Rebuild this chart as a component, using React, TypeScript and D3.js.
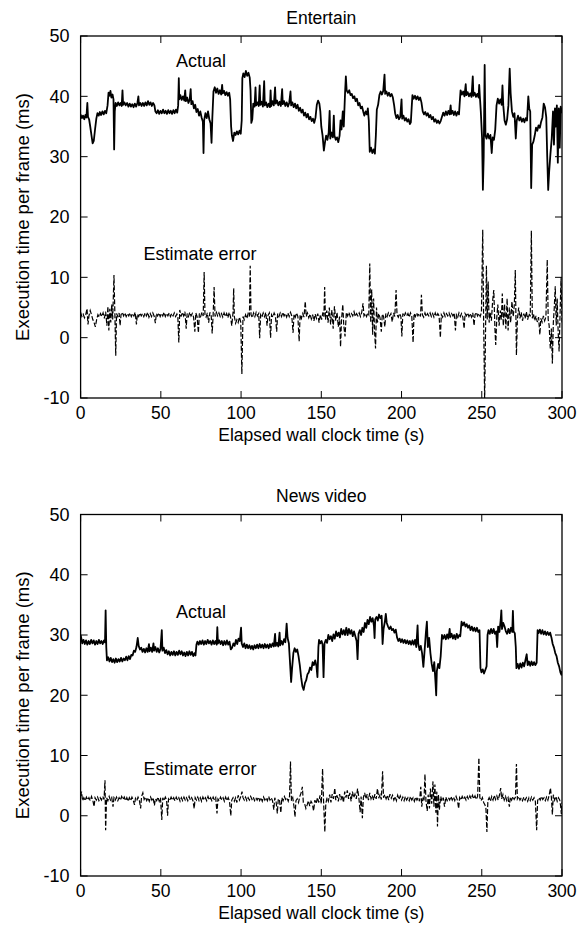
import React from "react";
import * as d3 from "d3";

const xTicks = [0, 50, 100, 150, 200, 250, 300];
const yTicks = [-10, 0, 10, 20, 30, 40, 50];
const panelTitles = ["Entertain", "News video"];
const xLabel = "Elapsed wall clock time (s)";
const yLabel = "Execution time per frame (ms)";
const actualLabel = "Actual";
const errorLabel = "Estimate error";

const entertainActual: [number, number][] = [
  [0,37.0],[0.8,36.4],[1.5,36.8],[2.3,36.2],[3,36.9],[3.6,36.5],[4.2,38.9],[4.6,36.6],[5.3,36.2],[6,35.0],[6.8,33.5],[7.5,32.2],[8.2,32.6],[9,34.5],[9.8,36.3],[10.5,37.2],[11.3,36.8],[12,37.4],[12.8,36.9],[13.6,37.5],[14.4,37.0],[15.2,37.6],[16,37.2],[16.8,38.5],[17.4,40.6],[18,40.1],[18.6,40.9],[19.2,39.8],[19.9,40.3],[20.5,39.5],[20.9,31.2],[21.3,37.5],[21.8,38.9],[22.6,38.4],[23.4,39.0],[24.2,38.5],[25,38.9],[25.6,38.4],[26.1,41.0],[26.5,38.6],[27.3,39.0],[28.1,38.5],[29,38.9],[29.8,38.3],[30.6,38.8],[31.4,38.3],[32.2,38.7],[33,38.2],[33.8,38.8],[34.6,38.3],[35.4,38.9],[36,40.0],[36.4,38.5],[37.2,38.9],[38,38.4],[38.8,38.9],[39.6,38.4],[40.4,39.0],[41.2,38.5],[42,39.2],[42.8,38.6],[43.6,39.0],[44.4,38.4],[45.2,38.9],[46,38.5],[46.6,37.5],[47.4,37.2],[48.2,37.7],[49,37.1],[49.8,37.6],[50.6,37.2],[51.4,37.8],[52.2,37.2],[53,37.6],[53.8,37.1],[54.6,37.7],[55.4,37.2],[56.2,37.6],[57,37.1],[57.8,37.7],[58.6,37.2],[59.4,37.8],[60.2,37.3],[60.8,38.5],[61.2,43.0],[61.5,39.5],[62.2,40.2],[63,39.4],[63.8,40.0],[64.6,39.3],[65.2,41.0],[65.6,39.2],[66.4,39.8],[67.2,38.9],[68,39.5],[68.6,41.2],[69,38.7],[69.8,39.2],[70.6,38.0],[71.4,38.6],[72.2,37.4],[73,37.9],[73.8,36.8],[74.6,37.5],[75.4,36.5],[76.2,35.8],[76.6,30.6],[77,36.0],[77.8,37.2],[78.6,36.4],[79.4,37.5],[80.2,36.2],[81,35.5],[81.6,32.3],[82.1,36.5],[82.8,40.8],[83.6,41.5],[84.4,40.6],[85.2,41.3],[86,40.4],[86.8,41.0],[87.6,40.3],[88.2,41.9],[88.6,40.5],[89.4,40.9],[90.2,40.2],[91,40.7],[91.8,40.1],[92.6,40.6],[93.2,39.5],[93.8,35.0],[94.3,33.5],[95,32.6],[95.8,34.0],[96.6,33.6],[97.4,34.2],[98.2,33.7],[99,34.3],[99.8,33.8],[100.4,36.0],[100.8,43.0],[101.4,43.8],[102.2,43.2],[103,44.2],[103.8,43.4],[104.6,43.9],[105.4,43.1],[105.9,41.0],[106.4,35.6],[107,36.2],[107.6,38.8],[108.4,38.3],[109,41.5],[109.4,38.5],[110.2,39.0],[111,38.4],[111.6,41.8],[112,38.6],[112.8,39.1],[113.6,38.3],[114.4,42.5],[114.8,38.5],[115.6,39.0],[116.4,38.2],[117.2,38.8],[118,38.2],[118.4,41.0],[118.8,38.4],[119.6,39.2],[120.4,38.5],[121.2,41.5],[121.6,38.8],[122.4,39.3],[123.2,38.5],[124,39.1],[124.8,38.4],[125.6,41.2],[126,38.7],[126.8,39.2],[127.6,38.4],[128.4,39.0],[129.2,38.3],[130,38.9],[130.8,40.8],[131.2,38.5],[132,39.0],[132.8,38.2],[133.6,38.8],[134.4,38.0],[135.2,38.6],[136,37.6],[136.8,38.1],[137.6,37.3],[138.4,37.8],[139.2,36.8],[140,37.3],[140.8,36.5],[141.6,37.1],[142.4,36.2],[143.2,36.6],[144,35.9],[144.8,36.3],[145.6,35.6],[146.4,36.5],[147.2,38.6],[148,39.3],[148.8,38.8],[149.4,37.5],[150,35.0],[150.8,33.5],[151.6,31.0],[152.2,32.2],[153,33.5],[153.8,32.8],[154.6,34.0],[155.2,37.6],[155.6,33.0],[156.4,34.0],[157.2,33.2],[157.8,36.8],[158.2,33.5],[159,32.8],[159.8,33.2],[160.6,32.4],[161.4,33.5],[162,36.0],[162.6,34.5],[163.4,37.5],[164,35.0],[164.8,40.5],[165.3,43.3],[165.8,41.0],[166.6,40.6],[167.4,41.0],[168.2,40.2],[169,40.4],[169.8,39.7],[170.6,40.0],[171.4,39.2],[172.2,39.6],[173,38.5],[173.8,38.9],[174.6,38.0],[175.4,38.3],[176.2,37.4],[176.8,36.8],[177.6,37.5],[178.4,37.0],[179,38.0],[179.6,36.0],[180.2,30.8],[181,31.5],[181.8,30.6],[182.6,31.2],[183.4,30.5],[184,33.5],[184.6,37.8],[185.4,38.6],[186.2,40.2],[187,40.8],[187.8,40.3],[188.6,40.9],[189.4,43.6],[189.8,40.4],[190.6,40.8],[191.4,40.1],[192.2,40.6],[193,40.0],[193.8,40.4],[194.6,39.8],[195.4,38.5],[196,37.2],[196.8,36.4],[197.6,36.9],[198.4,36.2],[199.2,36.6],[200,39.5],[200.4,36.3],[201.2,36.8],[202,36.0],[202.8,36.4],[203.6,35.8],[204.4,36.2],[205.2,35.4],[205.8,35.7],[206.4,38.5],[206.8,40.2],[207.6,39.6],[208.4,40.1],[209.2,39.5],[210,40.0],[210.8,39.4],[211.6,39.8],[212.4,39.0],[213.2,37.5],[214,37.0],[214.8,37.4],[215.6,36.8],[216.4,37.2],[217.2,36.5],[218,36.9],[218.8,36.2],[219.6,36.6],[220.4,35.8],[221.2,36.2],[222,35.6],[222.8,36.0],[223.6,35.5],[224.4,35.9],[225.2,36.6],[226,37.3],[226.8,36.8],[227.6,37.5],[228.4,36.9],[229.2,37.6],[230,37.0],[230.6,38.5],[231,37.1],[231.8,37.6],[232.6,36.9],[233.4,37.5],[234.2,36.8],[235,37.4],[235.8,37.0],[236.4,39.5],[236.8,41.0],[237.6,40.3],[238.4,40.8],[239.2,40.0],[240,42.0],[240.4,40.2],[241.2,40.7],[242,40.0],[242.8,40.5],[243.6,39.9],[244.4,43.3],[244.8,40.1],[245.6,40.6],[246.4,39.9],[247.2,40.4],[248,39.8],[248.4,41.9],[248.8,40.0],[249.4,37.5],[250.2,33.0],[250.7,24.5],[251.2,30.0],[251.8,45.2],[252.3,33.5],[253,33.0],[253.8,33.8],[254.6,33.0],[255.4,33.6],[256.2,30.6],[256.8,33.2],[257.6,32.8],[258.4,34.5],[259.2,38.5],[260,39.6],[260.8,38.8],[261.6,39.5],[262.4,38.6],[262.9,41.8],[263.4,38.5],[264.2,36.0],[265,35.3],[265.8,36.2],[266.6,38.5],[267.4,44.6],[268,40.5],[268.8,37.5],[269.6,36.6],[270.4,37.2],[271.2,33.0],[271.8,36.0],[272.6,36.8],[273.4,36.0],[274.2,36.5],[275,35.8],[275.8,36.3],[276.6,35.7],[277.4,36.4],[278.2,36.0],[279,40.0],[279.6,38.0],[280.2,37.5],[280.8,24.8],[281.4,32.0],[282.2,32.5],[283,33.5],[283.8,34.8],[284.6,34.3],[285.4,35.2],[286.2,34.8],[287,35.8],[287.8,36.5],[288.6,38.8],[289.4,38.2],[290.2,36.5],[290.8,30.0],[291.4,24.5],[292,27.5],[292.8,30.5],[293.6,33.0],[294.4,37.5],[295,32.0],[295.6,38.0],[296.2,35.0],[296.8,38.5],[297.4,29.0],[298,38.0],[298.6,31.5],[299.2,38.3],[300,37.2]
];

const entertainError: [number, number][] = [
  [0,4.2],[0.8,3.5],[1.6,3.9],[2.4,3.3],[3.2,3.8],[4,4.8],[4.6,2.2],[5.2,3.6],[6,4.5],[6.8,3.8],[7.6,3.0],[8.4,2.5],[9.2,1.8],[10,3.0],[10.8,3.8],[11.6,3.4],[12.4,4.0],[13.2,3.5],[14,4.1],[14.8,3.2],[15.6,4.3],[16.4,2.0],[17,5.2],[17.6,1.2],[18.2,4.8],[18.8,2.5],[19.4,5.5],[20,3.0],[20.8,10.4],[21.4,3.5],[21.9,-3.0],[22.4,4.0],[23.2,3.5],[24,4.1],[24.6,2.0],[25.2,3.8],[26,4.2],[26.8,3.6],[27.6,4.1],[28.4,3.5],[29.2,4.0],[30,3.6],[30.8,4.1],[31.6,3.5],[32.4,4.0],[33.2,3.6],[34,4.2],[34.8,2.2],[35.4,3.9],[36.2,3.5],[37,4.1],[37.8,3.6],[38.6,4.0],[39.4,3.5],[40.2,4.1],[41,3.6],[41.8,4.2],[42.6,3.4],[43.4,4.0],[44.2,3.5],[45,4.1],[45.8,3.6],[46.6,2.4],[47.2,4.0],[48,3.6],[48.8,4.1],[49.6,3.5],[50.4,4.0],[51.2,3.6],[52,4.2],[52.8,3.5],[53.6,4.0],[54.4,3.6],[55.2,4.1],[56,3.5],[56.8,4.0],[57.6,3.6],[58.4,4.1],[59.2,3.5],[60,3.9],[60.6,3.4],[61.2,-0.8],[61.8,4.6],[62.6,3.5],[63.4,4.2],[64.2,3.6],[65,4.3],[65.8,1.5],[66.4,4.0],[67.2,3.5],[68,4.2],[68.8,3.6],[69.6,4.0],[70.4,3.4],[71.2,1.0],[71.8,4.1],[72.6,3.5],[73.4,0.8],[74,4.0],[74.8,3.5],[75.6,4.2],[76.4,3.6],[77,10.9],[77.5,3.8],[78.2,3.4],[79,4.1],[79.8,2.5],[80.6,4.2],[81.4,3.6],[82,0.7],[82.6,3.8],[83.2,8.4],[83.8,3.5],[84.6,4.2],[85.4,3.6],[86.2,4.1],[87,3.5],[87.8,4.0],[88.6,3.4],[89.4,4.1],[90.2,3.5],[91,4.0],[91.8,3.3],[92.6,4.2],[93.4,3.5],[94.2,2.0],[95,4.2],[95.4,8.2],[95.8,3.5],[96.6,2.4],[97.4,3.0],[98.2,2.5],[99,3.4],[99.8,2.6],[100.5,-6.0],[101.2,3.5],[102,3.0],[102.8,3.8],[103.6,3.2],[104.4,4.0],[105.2,3.5],[105.7,11.9],[106.2,3.8],[107,3.3],[107.8,4.1],[108.6,3.5],[109.4,4.2],[110.2,3.6],[111,4.0],[111.6,-0.1],[112.2,3.8],[113,3.4],[113.8,4.1],[114.6,3.5],[115.4,4.2],[116.2,2.0],[116.8,3.7],[117.6,4.1],[118.4,0.0],[119,3.8],[119.8,3.4],[120.6,4.1],[121.4,3.6],[122.2,1.0],[122.8,4.0],[123.6,3.5],[124.4,4.1],[125.2,3.5],[126,4.2],[126.8,3.6],[127.6,4.0],[128.4,3.4],[129.2,4.1],[130,3.5],[130.8,4.2],[131.6,3.6],[132.4,0.8],[133,3.9],[133.8,3.4],[134.6,4.1],[135.4,3.5],[136.2,-0.6],[136.8,3.8],[137.6,3.2],[138.4,4.0],[139.2,3.4],[140,6.0],[140.6,3.5],[141.4,4.1],[142.2,3.3],[143,3.9],[143.8,3.1],[144.6,3.8],[145.4,2.8],[146.2,3.9],[147,3.2],[147.8,4.0],[148.6,2.5],[149.4,3.8],[150.2,3.0],[151,4.2],[151.6,3.5],[152.1,8.4],[152.6,3.0],[153.4,4.5],[154.2,2.5],[155,5.0],[155.8,2.2],[156.6,4.6],[157.4,1.5],[158.2,5.2],[159,2.8],[159.8,4.2],[160.6,1.8],[161.4,3.5],[162,-1.5],[162.6,3.0],[163.4,5.5],[164,2.0],[164.8,0.2],[165.6,4.2],[166.4,3.6],[167.2,4.2],[168,3.5],[168.8,4.0],[169.6,3.6],[170.4,4.3],[171.2,3.5],[172,4.0],[172.8,3.6],[173.6,4.1],[174.4,3.5],[175.2,4.2],[176,5.7],[176.6,3.6],[177.4,4.0],[178.2,3.5],[179,4.1],[179.6,3.8],[180.2,12.3],[180.8,2.5],[181.4,8.0],[182,0.5],[182.6,6.5],[183.2,1.0],[183.8,-1.8],[184.4,5.0],[185,2.5],[185.8,4.0],[186.6,3.3],[187.4,1.0],[188,3.9],[188.8,3.5],[189.6,1.8],[190.2,4.0],[191,3.5],[191.8,4.1],[192.6,3.6],[193.4,4.0],[194.2,2.6],[195,4.1],[195.8,3.5],[196.6,7.9],[197.2,3.8],[198,3.4],[198.8,4.0],[199.6,3.5],[200.2,0.2],[200.8,4.0],[201.6,3.5],[202.4,4.1],[203.2,3.6],[204,4.0],[204.8,3.4],[205.6,4.1],[206.4,3.5],[207.2,-0.8],[207.8,4.0],[208.6,3.5],[209.4,4.1],[210.2,3.6],[211,4.0],[211.8,3.5],[212.4,7.1],[213,3.8],[213.8,3.4],[214.6,4.1],[215.4,3.5],[216.2,4.0],[217,3.6],[217.8,4.1],[218.6,3.5],[219.4,4.0],[220.2,3.4],[221,4.1],[221.8,3.5],[222.6,4.0],[223.4,3.6],[224.2,0.0],[224.8,3.8],[225.6,3.4],[226.4,4.1],[227.2,3.5],[228,4.0],[228.8,3.6],[229.6,4.1],[230.4,3.5],[231.2,4.0],[232,3.6],[232.8,4.1],[233.6,1.2],[234.2,3.8],[235,3.4],[235.8,4.1],[236.6,3.5],[237.4,4.0],[238.2,3.4],[239,1.5],[239.6,4.0],[240.4,3.6],[241.2,4.1],[242,3.5],[242.8,4.0],[243.6,3.4],[244.4,4.1],[245.2,2.0],[245.8,3.8],[246.6,4.2],[247.4,3.6],[248.2,4.0],[249,3.5],[249.8,4.2],[250.6,17.9],[251.2,2.0],[251.8,-10.5],[252.4,2.0],[252.9,11.9],[253.4,3.0],[254,9.3],[254.6,2.5],[255.2,4.2],[256,2.8],[256.8,6.2],[257.5,7.9],[258.2,1.5],[258.7,-1.2],[259.4,3.5],[260,5.5],[260.8,2.0],[261.6,4.5],[262.2,3.0],[262.8,7.3],[263.4,2.0],[264.2,5.5],[265,1.5],[265.8,6.5],[266.4,1.2],[267.2,5.0],[268,2.5],[268.8,6.0],[269.6,3.5],[270.3,5.5],[270.9,11.2],[271.6,-2.9],[272.2,3.0],[273,5.0],[273.8,3.2],[274.6,4.2],[275.4,2.8],[276.2,4.0],[277,3.2],[277.8,4.3],[278.6,3.0],[279.4,4.0],[280.2,3.5],[280.9,17.7],[281.5,3.2],[282.2,4.0],[283,2.8],[283.8,3.6],[284.6,2.6],[285.4,3.4],[286.2,0.5],[286.8,3.2],[287.6,2.6],[288.4,3.6],[289.2,2.8],[290,3.5],[290.8,12.9],[291.4,3.0],[292,2.0],[292.7,-1.8],[293.4,1.5],[294,-4.3],[294.6,2.5],[295.2,5.0],[295.8,8.5],[296.4,2.0],[297,6.5],[297.6,1.0],[298.2,-2.3],[298.8,4.0],[299.4,10.0],[300,2.5]
];

const newsActual: [number, number][] = [
  [0,30.0],[0.5,29.4],[1,28.6],[1.8,29.2],[2.6,28.5],[3.4,29.1],[4.2,28.4],[5,29.0],[5.8,28.5],[6.6,29.2],[7.4,28.6],[8.2,29.1],[9,28.4],[9.8,29.0],[10.6,28.5],[11.4,29.2],[12.2,28.6],[13,29.0],[13.8,28.5],[14.6,29.1],[15.2,28.8],[15.6,34.1],[16,28.0],[16.4,25.8],[17.2,26.3],[18,25.6],[18.8,26.2],[19.6,25.5],[20.4,26.0],[21.2,25.4],[22,26.1],[22.8,25.5],[23.6,26.0],[24.4,25.6],[25.2,26.2],[26,25.6],[26.8,26.1],[27.6,25.8],[28.4,26.4],[29.2,25.8],[30,26.5],[30.8,26.0],[31.6,26.7],[32.4,26.6],[33.2,27.4],[34,27.2],[34.8,28.0],[35.6,29.5],[36.2,28.2],[37,27.6],[37.8,27.9],[38.6,27.2],[39.4,27.7],[40.2,27.1],[41,27.8],[41.8,27.2],[42.6,28.5],[43,27.3],[43.8,27.9],[44.6,27.2],[45.4,28.6],[45.8,27.4],[46.6,28.0],[47.4,27.2],[48.2,27.8],[49,27.1],[49.8,27.7],[50.6,30.8],[51,27.4],[51.8,27.9],[52.6,27.0],[53.4,27.5],[54.2,26.8],[55,27.3],[55.8,26.6],[56.6,27.2],[57.4,26.7],[58.2,27.3],[59,26.6],[59.8,27.2],[60.6,26.7],[61.4,27.4],[62.2,26.8],[63,27.3],[63.8,26.6],[64.6,27.1],[65.4,26.5],[66.2,27.2],[67,26.6],[67.8,27.3],[68.6,26.7],[69.4,27.2],[70.2,26.5],[71,27.0],[71.6,26.6],[72.2,28.4],[72.8,28.9],[73.6,28.4],[74.4,29.0],[75.2,28.5],[76,29.1],[76.8,28.4],[77.6,29.0],[78.4,28.5],[79.2,29.2],[80,28.6],[80.8,29.0],[81.6,28.4],[82.4,29.1],[83.2,28.5],[84,29.0],[84.8,28.4],[85.2,31.3],[85.6,28.6],[86.4,29.1],[87.2,28.5],[88,29.0],[88.8,28.3],[89.6,29.0],[90.4,28.4],[91.2,29.1],[92,28.4],[92.8,28.9],[93.6,27.6],[94.4,27.9],[95.2,28.6],[96,28.2],[96.8,29.2],[97.6,28.5],[98.4,29.4],[99.2,29.0],[100,31.2],[100.4,28.6],[101.2,28.0],[102,28.6],[102.8,27.8],[103.6,28.4],[104.4,27.8],[105.2,28.3],[106,27.7],[106.8,28.2],[107.6,27.6],[108.4,28.3],[109.2,27.8],[110,28.4],[110.8,27.8],[111.6,28.5],[112.4,27.9],[113.2,28.4],[114,27.8],[114.8,28.5],[115.6,27.9],[116.4,28.4],[117.2,27.8],[118,28.5],[118.8,28.0],[119.6,28.6],[120.4,28.1],[121.2,30.2],[121.6,28.2],[122.4,28.7],[123.2,28.1],[124,30.4],[124.4,28.3],[125.2,29.0],[126,28.4],[126.8,29.3],[127.6,28.8],[128.4,31.9],[129,29.5],[129.8,28.6],[130.6,25.0],[131.2,22.2],[131.8,24.5],[132.6,27.0],[133.4,27.8],[134.2,27.2],[135,27.6],[135.8,26.5],[136.6,25.0],[137.4,23.0],[138.2,21.5],[139,20.9],[139.8,22.0],[140.6,22.5],[141.4,23.5],[142.2,23.8],[143,24.6],[143.8,24.2],[144.6,25.5],[145.4,25.0],[146.2,25.8],[147,24.8],[147.6,23.0],[148.2,28.0],[148.6,29.2],[149.4,28.6],[150.2,29.0],[150.8,28.4],[151.4,23.0],[152,28.6],[152.8,29.2],[153.6,28.7],[154.4,30.0],[155.2,29.3],[156,29.8],[156.8,29.0],[157.6,30.1],[158.4,29.4],[159.2,30.6],[160,29.8],[160.8,30.4],[161.6,29.6],[162.4,31.0],[163.2,30.1],[164,30.8],[164.8,30.0],[165.6,31.2],[166.4,30.0],[167.2,31.0],[168,30.2],[168.8,30.8],[169.6,29.8],[170.4,30.6],[171.2,29.8],[172,29.0],[172.6,26.0],[173.2,30.2],[174,30.8],[174.8,30.0],[175.6,31.2],[176.4,30.5],[177.2,32.0],[178,31.2],[178.8,32.5],[179.6,31.8],[180.4,33.0],[181.2,32.2],[182,32.8],[182.8,31.5],[183.2,29.5],[183.6,32.6],[184.4,33.0],[185.2,32.4],[186,33.4],[186.8,32.8],[187.6,33.2],[188.2,28.5],[188.8,31.0],[189.6,32.2],[190.2,33.5],[190.8,32.0],[191.6,31.4],[192.4,31.0],[193.2,31.4],[194,30.8],[194.8,31.0],[195.6,30.4],[196.4,30.9],[197.2,29.6],[198,29.0],[198.8,29.4],[199.6,28.8],[200.4,29.3],[201.2,28.7],[202,29.2],[202.8,28.6],[203.6,29.1],[204.4,28.5],[205.2,29.0],[206,28.4],[206.8,29.1],[207.6,28.4],[208.4,29.2],[209.2,28.0],[210,31.6],[210.4,28.6],[211.2,27.5],[212,28.2],[212.8,27.0],[213.6,24.7],[214.4,27.5],[215.2,30.5],[215.8,32.2],[216.4,28.0],[217.2,29.5],[218,27.0],[218.8,25.2],[219.6,24.0],[220.4,25.5],[221.2,22.0],[221.6,20.0],[222,24.0],[222.8,25.2],[223.6,24.5],[224.4,26.5],[225.2,30.0],[226,29.4],[226.8,30.0],[227.6,29.3],[228.4,30.1],[229.2,29.4],[230,31.0],[230.4,29.6],[231.2,30.2],[232,29.4],[232.8,30.0],[233.6,29.3],[234.4,30.2],[235.2,29.5],[236,30.0],[236.6,29.8],[237.4,32.2],[238.2,31.6],[239,32.1],[239.8,31.4],[240.6,31.8],[241.4,31.2],[242.2,31.6],[243,30.8],[243.8,31.4],[244.6,30.7],[245.4,31.2],[246.2,30.6],[247,31.2],[247.8,30.5],[248.6,30.8],[249.2,24.5],[249.8,23.8],[250.6,24.3],[251.4,23.6],[252.2,24.2],[253,24.8],[253.6,30.0],[254.2,30.8],[255,30.2],[255.8,31.0],[256.6,30.3],[257.4,31.0],[258.2,30.2],[259,30.6],[259.6,28.0],[260.2,31.4],[261,30.5],[261.8,32.5],[262.2,34.1],[262.6,31.0],[263.4,32.0],[264.2,31.4],[265,30.6],[265.8,30.2],[266.6,31.0],[267.4,30.3],[268.2,31.2],[269,30.5],[269.4,34.0],[269.8,30.6],[270.6,30.3],[271.2,28.0],[271.6,24.5],[272.4,25.2],[273.2,24.4],[274,25.3],[274.8,24.6],[275.6,25.4],[276.4,24.8],[277.2,25.8],[278,26.8],[278.6,25.0],[279.4,25.6],[280.2,24.9],[281,25.6],[281.8,25.0],[282.6,25.5],[283.4,25.0],[284.2,25.4],[284.8,30.8],[285.4,30.3],[286.2,30.9],[287,30.2],[287.8,30.8],[288.6,30.1],[289.4,30.6],[290.2,30.0],[291,30.5],[291.8,30.0],[292.6,30.4],[293.4,29.6],[294.2,28.5],[295,27.9],[295.8,27.0],[296.6,26.5],[297.4,25.4],[298.2,24.8],[299,23.8],[299.6,23.4],[300,24.0]
];

const newsError: [number, number][] = [
  [0,3.3],[0.6,4.0],[1.2,2.5],[2,3.0],[2.8,2.5],[3.6,3.1],[4.4,2.6],[5.2,3.0],[6,2.5],[6.8,3.2],[7.6,2.6],[8.4,1.5],[9,3.0],[9.8,2.6],[10.6,3.1],[11.4,2.5],[12.2,3.0],[13,2.6],[13.8,3.2],[14.6,2.7],[15.2,5.9],[15.6,-2.4],[16.2,3.0],[17,2.5],[17.8,3.2],[18.6,2.6],[19.4,3.0],[20.2,1.5],[20.8,3.0],[21.6,2.6],[22.4,3.1],[23.2,2.5],[24,3.0],[24.8,2.6],[25.6,3.2],[26.4,2.7],[27.2,3.1],[28,2.5],[28.8,3.0],[29.6,2.4],[30.4,3.0],[31.2,2.5],[32,3.1],[32.8,2.6],[33.6,1.8],[34.2,2.9],[35,2.5],[35.8,3.1],[36.6,2.6],[37.4,1.2],[38,3.2],[38.8,3.8],[39.6,2.7],[40.4,3.1],[41.2,2.5],[42,3.0],[42.8,2.4],[43.6,3.1],[44.4,2.6],[45.2,3.0],[46,1.7],[46.6,2.8],[47.4,2.5],[48.2,3.1],[49,2.4],[49.8,3.0],[50.6,-0.7],[51.2,3.0],[52,2.5],[52.8,3.1],[53.6,2.6],[54.2,0.0],[54.8,2.8],[55.6,2.5],[56.4,3.1],[57.2,2.6],[58,3.0],[58.8,2.5],[59.6,3.1],[60.4,2.6],[61.2,3.0],[62,2.4],[62.8,3.0],[63.6,2.5],[64.4,3.1],[65.2,2.6],[66,3.0],[66.8,2.5],[67.6,3.2],[68.4,2.6],[69.2,3.0],[70,2.5],[70.8,1.2],[71.4,3.0],[72.2,2.6],[73,3.1],[73.8,2.5],[74.6,3.0],[75.4,2.4],[76.2,3.1],[77,2.6],[77.8,3.0],[78.6,2.5],[79.4,3.2],[80.2,2.6],[81,3.0],[81.8,2.5],[82.6,3.1],[83.4,2.6],[84.2,3.0],[85,0.4],[85.6,2.8],[86.4,2.5],[87.2,3.1],[88,2.6],[88.8,3.0],[89.6,2.4],[90.4,3.1],[91.2,2.5],[92,3.0],[92.8,2.4],[93.6,0.0],[94.2,2.6],[95,3.0],[95.8,2.4],[96.6,3.0],[97.4,2.2],[98.2,3.4],[99,2.6],[99.8,3.2],[100.6,4.0],[101.2,3.0],[102,2.6],[102.8,3.1],[103.6,2.5],[104.4,3.0],[105.2,2.6],[106,3.2],[106.8,2.7],[107.6,3.1],[108.4,2.5],[109.2,3.0],[110,2.6],[110.8,3.1],[111.6,2.5],[112.4,3.0],[113.2,2.4],[114,3.1],[114.8,2.6],[115.6,3.0],[116.4,2.5],[117.2,3.2],[118,2.6],[118.8,3.0],[119.6,2.5],[120.4,1.0],[121,3.0],[121.8,2.4],[122.6,0.4],[123.2,2.8],[124,2.5],[124.8,0.5],[125.4,3.0],[126.2,2.5],[127,3.2],[127.8,2.7],[128.6,3.0],[129.4,2.4],[130.2,3.2],[130.8,9.0],[131.4,2.5],[132.2,3.0],[133,1.5],[133.6,-0.2],[134.2,2.5],[135,2.8],[135.8,2.2],[136.6,3.2],[137.4,3.8],[138.2,4.8],[138.8,2.2],[139.6,2.0],[140.4,1.2],[141.2,1.8],[142,2.5],[142.8,1.6],[143.6,2.4],[144.4,2.0],[145.2,0.8],[146,2.6],[146.8,2.0],[147.6,3.0],[148.4,2.2],[149.2,3.4],[150,2.0],[150.8,7.8],[151.4,2.5],[152.2,-2.7],[152.8,2.0],[153.6,3.0],[154.4,2.4],[155.2,3.5],[156,2.2],[156.8,3.6],[157.6,2.8],[158.4,4.6],[159,2.6],[159.8,3.4],[160.6,2.4],[161.4,3.6],[162.2,2.6],[163,3.4],[163.8,2.2],[164.6,4.0],[165.4,3.0],[166.2,4.2],[167,2.8],[167.8,3.8],[168.6,2.4],[169.4,4.0],[170.2,3.0],[171,3.6],[171.8,2.8],[172.6,4.5],[173.4,3.0],[174.2,0.6],[174.8,3.2],[175.6,-0.4],[176.2,3.0],[177,3.8],[177.8,2.8],[178.6,3.6],[179.4,2.6],[180.2,3.8],[181,2.8],[181.8,3.4],[182.6,2.6],[183.4,3.6],[184.2,2.8],[185,4.5],[185.8,2.9],[186.6,3.5],[187.4,2.7],[188.2,7.4],[188.8,3.0],[189.6,3.5],[190.4,2.8],[191.2,3.4],[192,2.6],[192.8,3.6],[193.6,2.9],[194.4,3.4],[195.2,2.6],[196,3.2],[196.8,2.5],[197.6,3.4],[198.4,2.7],[199.2,3.3],[200,2.6],[200.8,3.1],[201.6,2.5],[202.4,3.2],[203.2,2.6],[204,3.0],[204.8,2.5],[205.6,3.2],[206.4,2.6],[207.2,3.0],[208,2.4],[208.8,3.1],[209.6,2.6],[210.4,3.0],[211.2,2.4],[212,4.8],[212.6,1.5],[213.4,3.0],[214,2.5],[214.6,6.9],[215.2,2.6],[216,0.8],[216.6,3.5],[217.4,1.2],[218,4.5],[218.8,2.0],[219.6,5.7],[220.2,1.5],[220.8,5.2],[221.4,0.5],[222,4.0],[222.4,-1.8],[223,3.5],[223.6,1.0],[224.4,3.2],[225.2,2.4],[226,3.0],[226.8,1.5],[227.6,3.1],[228.4,2.5],[229.2,3.0],[230,2.6],[230.8,3.2],[231.6,2.6],[232.4,3.1],[233.2,2.5],[234,3.2],[234.8,2.6],[235.6,1.2],[236.2,3.0],[237,2.6],[237.8,3.2],[238.6,2.7],[239.4,3.1],[240.2,2.6],[241,3.2],[241.8,2.7],[242.6,3.3],[243.4,2.8],[244.2,3.4],[245,2.8],[245.8,3.3],[246.6,2.7],[247.4,3.2],[248.2,9.6],[248.8,3.0],[249.6,2.5],[250.4,3.0],[251.2,2.2],[252,1.8],[252.6,1.2],[253.2,-2.7],[253.8,2.5],[254.6,3.0],[255.4,2.4],[256.2,3.2],[257,2.6],[257.8,3.4],[258.6,2.7],[259.4,3.3],[260.2,2.6],[261,3.4],[261.8,4.6],[262.4,2.8],[263.2,3.5],[264,2.6],[264.8,3.2],[265.6,2.5],[266.4,3.0],[267.2,1.5],[267.8,3.1],[268.6,2.6],[269.4,3.2],[270.2,2.7],[271,3.1],[271.6,8.6],[272.2,2.8],[273,3.2],[273.8,2.6],[274.6,3.0],[275.4,2.5],[276.2,3.1],[277,2.6],[277.8,3.0],[278.6,2.4],[279.4,3.0],[280.2,2.5],[281,3.1],[281.8,2.6],[282.6,3.0],[283.4,2.4],[284.2,-2.4],[284.8,2.5],[285.6,3.0],[286.4,2.6],[287.2,3.2],[288,2.7],[288.8,3.0],[289.6,2.5],[290.4,3.1],[291.2,2.6],[292,3.4],[292.8,4.6],[293.4,3.0],[294,0.2],[294.6,3.5],[295.4,2.6],[296.2,3.2],[297,2.4],[297.8,3.0],[298.6,2.6],[299.2,1.5],[299.6,0.3],[300,2.2]
];

const FONT = "'Liberation Sans', Arial, Helvetica, sans-serif";
const W = 577;
const H = 927;
const LEFT = 80.6;
const RIGHT = 562;
const TICK = 7;

type PanelProps = {
  top: number;
  bottom: number;
  title: string;
  actual: [number, number][];
  error: [number, number][];
  id: string;
  actualPos: [number, number];
  errorPos: [number, number];
};

function Panel({ top, bottom, title, actual, error, id, actualPos, errorPos }: PanelProps) {
  const x = d3.scaleLinear().domain([0, 300]).range([LEFT, RIGHT]);
  const y = d3.scaleLinear().domain([-10, 50]).range([bottom, top]);
  const line = d3
    .line<[number, number]>()
    .x((d) => x(d[0]))
    .y((d) => y(d[1]));
  const midY = (top + bottom) / 2;
  const midX = (LEFT + RIGHT) / 2;
  return (
    <g>
      <defs>
        <clipPath id={id}>
          <rect x={LEFT} y={top} width={RIGHT - LEFT} height={bottom - top} />
        </clipPath>
      </defs>
      <text x={midX} y={top - 12.5} textAnchor="middle" fontSize={17.5} fontFamily={FONT}>
        {title}
      </text>
      <g clipPath={`url(#${id})`}>
        <path d={line(error) || ""} fill="none" stroke="#000" strokeWidth={1.2} strokeDasharray="5,2" />
        <path d={line(actual) || ""} fill="none" stroke="#000" strokeWidth={1.8} strokeLinejoin="round" />
      </g>
      <rect x={LEFT} y={top} width={RIGHT - LEFT} height={bottom - top} fill="none" stroke="#000" strokeWidth={1.3} />
      {xTicks.map((t) => (
        <g key={"x" + t}>
          <line x1={x(t)} x2={x(t)} y1={bottom} y2={bottom - TICK} stroke="#000" />
          <line x1={x(t)} x2={x(t)} y1={top} y2={top + TICK} stroke="#000" />
          <text x={x(t)} y={bottom + 21} textAnchor="middle" fontSize={17.5} fontFamily={FONT}>
            {t}
          </text>
        </g>
      ))}
      {yTicks.map((t) => (
        <g key={"y" + t}>
          <line x1={LEFT} x2={LEFT + TICK} y1={y(t)} y2={y(t)} stroke="#000" />
          <line x1={RIGHT} x2={RIGHT - TICK} y1={y(t)} y2={y(t)} stroke="#000" />
          <text x={LEFT - 11} y={y(t)} dy="0.36em" textAnchor="end" fontSize={18} fontFamily={FONT}>
            {t}
          </text>
        </g>
      ))}
      <text x={midX} y={bottom + 43} textAnchor="middle" fontSize={17.5} fontFamily={FONT}>
        {xLabel}
      </text>
      <text
        transform={`translate(28.5,${midY}) rotate(-90)`}
        textAnchor="middle"
        fontSize={18.5}
        fontFamily={FONT}
      >
        {yLabel}
      </text>
      <text x={x(actualPos[0])} y={y(actualPos[1])} fontSize={18} fontFamily={FONT}>
        {actualLabel}
      </text>
      <text x={x(errorPos[0])} y={y(errorPos[1])} fontSize={18} fontFamily={FONT}>
        {errorLabel}
      </text>
    </g>
  );
}

export default function App() {
  return (
    <svg
      width={W}
      height={H}
      style={{ position: "absolute", left: 0, top: 0, background: "#fff" }}
    >
      <rect width={W} height={H} fill="#fff" />
      <Panel
        id="clipA"
        top={36}
        bottom={398}
        title={panelTitles[0]}
        actual={entertainActual}
        error={entertainError}
        actualPos={[59.4, 44.8]}
        errorPos={[39.2, 12.95]}
      />
      <Panel
        id="clipB"
        top={514.5}
        bottom={876}
        title={panelTitles[1]}
        actual={newsActual}
        error={newsError}
        actualPos={[59.4, 32.9]}
        errorPos={[39.2, 6.7]}
      />
    </svg>
  );
}
